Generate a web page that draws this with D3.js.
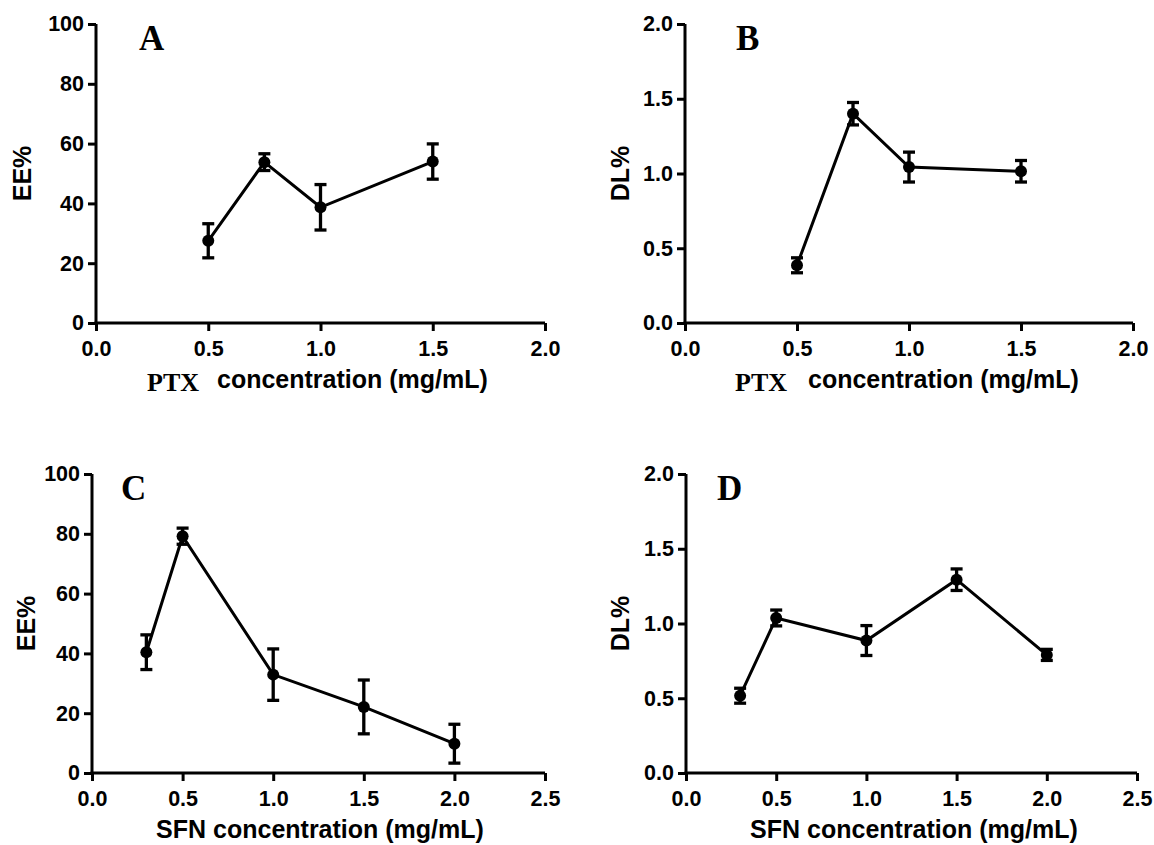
<!DOCTYPE html>
<html>
<head>
<meta charset="utf-8">
<script src="https://cdn.jsdelivr.net/npm/d3@7"></script>
<style>
  html, body { margin: 0; padding: 0; background: #fff; }
  svg { display: block; }
  .tick text { font-family: "Liberation Sans", Arial, sans-serif; font-weight: bold; }
</style>
</head>
<body>
<svg id="chart" width="1154" height="845"></svg>
<script>
// PTX series (panels A, B)
const ptxConc = [0.5, 0.75, 1.0, 1.5];
const ptxEE = [27.5, 53.8, 38.7, 54.0];
const ptxEEErr = [5.7, 2.8, 7.6, 5.9];
const ptxDL = [0.386, 1.40, 1.043, 1.015];
const ptxDLErr = [0.05, 0.075, 0.10, 0.072];

// SFN series (panels C, D)
const sfnConc = [0.3, 0.5, 1.0, 1.5, 2.0];
const sfnEE = [40.4, 79.2, 32.9, 22.1, 9.8];
const sfnEEErr = [5.8, 2.7, 8.6, 9.0, 6.5];
const sfnDL = [0.517, 1.037, 0.886, 1.293, 0.79];
const sfnDLErr = [0.05, 0.053, 0.10, 0.072, 0.037];

// tick values
const eeTicks = [0, 20, 40, 60, 80, 100];
const dlTicks = [0, 0.5, 1.0, 1.5, 2.0];
const ptxTicks = [0, 0.5, 1.0, 1.5, 2.0];
const sfnTicks = [0, 0.5, 1.0, 1.5, 2.0, 2.5];

const svg = d3.select('#chart');

/**
 * Draw one panel: axes, line, error bars and dots
 */
function drawPanel(p) {
    const x = d3.scaleLinear().domain([0, p.xTicks[p.xTicks.length - 1]]).range([p.left, p.right]);
    const y = d3.scaleLinear().domain([0, p.yTicks[p.yTicks.length - 1]]).range([p.bottom, p.top]);
    const g = svg.append('g');

    // axes
    const xAxis = d3.axisBottom(x).tickValues(p.xTicks).tickFormat(d3.format('.1f'))
        .tickSize(8).tickSizeOuter(0).tickPadding(10);
    const yAxis = d3.axisLeft(y).tickValues(p.yTicks).tickFormat(p.yFormat)
        .tickSize(8).tickSizeOuter(0).tickPadding(4);

    const gx = g.append('g').attr('transform', `translate(0,${p.bottom})`).call(xAxis);
    const gy = g.append('g').attr('transform', `translate(${p.left},0)`).call(yAxis);
    [gx, gy].forEach(a => {
        a.select('.domain').attr('stroke', '#000').attr('stroke-width', 3);
        a.selectAll('.tick line').attr('stroke', '#000').attr('stroke-width', 3);
        a.selectAll('.tick text').attr('fill', '#000').attr('font-size', 21.5);
    });
    // square corner where the two axis lines meet
    gy.select('.domain').attr('d', `M0,${p.bottom + 1.5}V${p.top}`);
    gx.select('.domain').attr('d', `M${p.left - 1.5},0H${p.right}`);

    const data = p.xs.map((v, i) => ({ x: v, y: p.ys[i], e: p.errs[i] }));

    // connecting line
    g.append('path')
        .datum(data)
        .attr('fill', 'none')
        .attr('stroke', '#000')
        .attr('stroke-width', 3)
        .attr('d', d3.line().x(d => x(d.x)).y(d => y(d.y)));

    // error bars
    const eb = g.append('g').attr('stroke', '#000').attr('stroke-width', 3.3);
    eb.selectAll('line.v').data(data).enter().append('line')
        .attr('x1', d => x(d.x)).attr('x2', d => x(d.x))
        .attr('y1', d => y(d.y - d.e)).attr('y2', d => y(d.y + d.e));
    eb.selectAll('line.t').data(data).enter().append('line')
        .attr('x1', d => x(d.x) - 6).attr('x2', d => x(d.x) + 6)
        .attr('y1', d => y(d.y + d.e)).attr('y2', d => y(d.y + d.e));
    eb.selectAll('line.b').data(data).enter().append('line')
        .attr('x1', d => x(d.x) - 6).attr('x2', d => x(d.x) + 6)
        .attr('y1', d => y(d.y - d.e)).attr('y2', d => y(d.y - d.e));

    // dots
    g.selectAll('circle').data(data).enter().append('circle')
        .attr('cx', d => x(d.x)).attr('cy', d => y(d.y)).attr('r', 6).attr('fill', '#000');

    // y title
    g.append('text')
        .attr('transform', `translate(${p.yTitleX},${(p.top + p.bottom) / 2}) rotate(-90)`)
        .attr('text-anchor', 'middle')
        .attr('font-family', '"Liberation Sans", Arial, sans-serif')
        .attr('font-weight', 'bold').attr('font-size', 25)
        .text(p.yTitle);

    // x title
    if (p.drug === 'PTX') {
        g.append('text')
            .attr('x', p.drugX).attr('y', p.bottom + 68)
            .attr('font-family', '"Liberation Serif", "Times New Roman", serif')
            .attr('font-weight', 'bold').attr('font-size', 26)
            .text('PTX');
        g.append('text')
            .attr('x', p.concX).attr('y', p.bottom + 65)
            .attr('font-family', '"Liberation Sans", Arial, sans-serif')
            .attr('font-weight', 'bold').attr('font-size', 25)
            .text('concentration (mg/mL)');
    } else {
        g.append('text')
            .attr('x', p.concX).attr('y', p.bottom + 65)
            .attr('text-anchor', 'middle')
            .attr('font-family', '"Liberation Sans", Arial, sans-serif')
            .attr('font-weight', 'bold').attr('font-size', 25)
            .text('SFN concentration (mg/mL)');
    }

    // panel letter
    g.append('text')
        .attr('x', p.letterX).attr('y', p.top + 26)
        .attr('font-family', '"Liberation Serif", "Times New Roman", serif')
        .attr('font-weight', 'bold').attr('font-size', 35)
        .text(p.letter);
}

const fmtInt = d3.format('d');
const fmt1 = d3.format('.1f');

drawPanel({ letter: 'A', letterX: 139, left: 96, right: 545, top: 24, bottom: 323,
    xTicks: ptxTicks, yTicks: eeTicks, yFormat: fmtInt, xs: ptxConc, ys: ptxEE, errs: ptxEEErr,
    yTitle: 'EE%', yTitleX: 31, drug: 'PTX', drugX: 147, concX: 217 });
drawPanel({ letter: 'B', letterX: 736, left: 685, right: 1133, top: 24, bottom: 323,
    xTicks: ptxTicks, yTicks: dlTicks, yFormat: fmt1, xs: ptxConc, ys: ptxDL, errs: ptxDLErr,
    yTitle: 'DL%', yTitleX: 629, drug: 'PTX', drugX: 735, concX: 808 });
drawPanel({ letter: 'C', letterX: 121, left: 92, right: 545, top: 474, bottom: 773,
    xTicks: sfnTicks, yTicks: eeTicks, yFormat: fmtInt, xs: sfnConc, ys: sfnEE, errs: sfnEEErr,
    yTitle: 'EE%', yTitleX: 35, drug: 'SFN', concX: 320 });
drawPanel({ letter: 'D', letterX: 717, left: 686, right: 1137, top: 474, bottom: 773,
    xTicks: sfnTicks, yTicks: dlTicks, yFormat: fmt1, xs: sfnConc, ys: sfnDL, errs: sfnDLErr,
    yTitle: 'DL%', yTitleX: 629, drug: 'SFN', concX: 914 });
</script>
</body>
</html>
